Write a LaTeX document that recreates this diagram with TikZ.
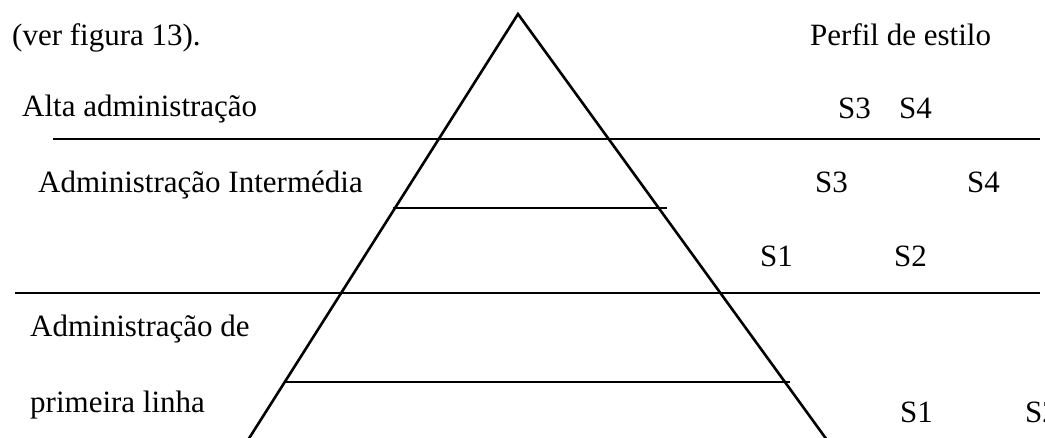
\documentclass[tikz,border=0pt]{standalone}
\usepackage{fontspec}
\setmainfont{Liberation Serif}
\usepackage{tikz}
\usetikzlibrary{calc}
\definecolor{ScanInk}{HTML}{000000}
\tikzset{
  pyramid/.style={draw=ScanInk,line width=2.6pt},
  tierline/.style={draw=ScanInk,line width=1.5pt},
  level/.style={anchor=base west,inner sep=0pt,font=\fontsize{31}{37}\selectfont,text=ScanInk},
  stylemark/.style={level}
}

\begin{document}
\begin{tikzpicture}[x=1pt,y=-1pt]
  \useasboundingbox (0,0) rectangle (1045,437);
  \clip (0,0) rectangle (1045,437);
  % pyramid
  \coordinate (apex) at (518,14);
  \coordinate (baseL) at (248,440);
  \coordinate (baseR) at (827,440);
  \draw[pyramid] (baseL) -- (apex) -- (baseR);
  % tier lines
  \coordinate (tierAL) at (53,139);  \coordinate (tierAR) at (1040,139);
  \coordinate (tierBL) at (393,208); \coordinate (tierBR) at (667,208);
  \coordinate (tierCL) at (15,293);  \coordinate (tierCR) at (1040,293);
  \coordinate (tierDL) at (285,382); \coordinate (tierDR) at (790,382);
  \draw[tierline] (tierAL) -- (tierAR);
  \draw[tierline] (tierBL) -- (tierBR);
  \draw[tierline] (tierCL) -- (tierCR);
  \draw[tierline] (tierDL) -- (tierDR);
  % left labels
  \node[level] (ref)   at (12,45)  {(ver figura 13).};
  \node[level] (alta)  at (22,116) {Alta administração};
  \node[level] (inter) at (38,192) {Administração Intermédia};
  \node[level] (prim)  at (30,336) {Administração de};
  \node[level] (primb) at (30,412) {primeira linha};
  % style profile
  \node[level] (perfil) at (810,45) {Perfil de estilo};
  \node[stylemark] (altaS3)  at (838,118) {S3};
  \node[stylemark] (altaS4)  at (899,118) {S4};
  \node[stylemark] (interS3) at (815,192) {S3};
  \node[stylemark] (interS4) at (967,192) {S4};
  \node[stylemark] (interS1) at (760,266) {S1};
  \node[stylemark] (interS2) at (894,266) {S2};
  \node[stylemark] (primS1)  at (900,422) {S1};
  \node[stylemark] (primS2)  at (1025,422) {S2};
\end{tikzpicture}
\end{document}
